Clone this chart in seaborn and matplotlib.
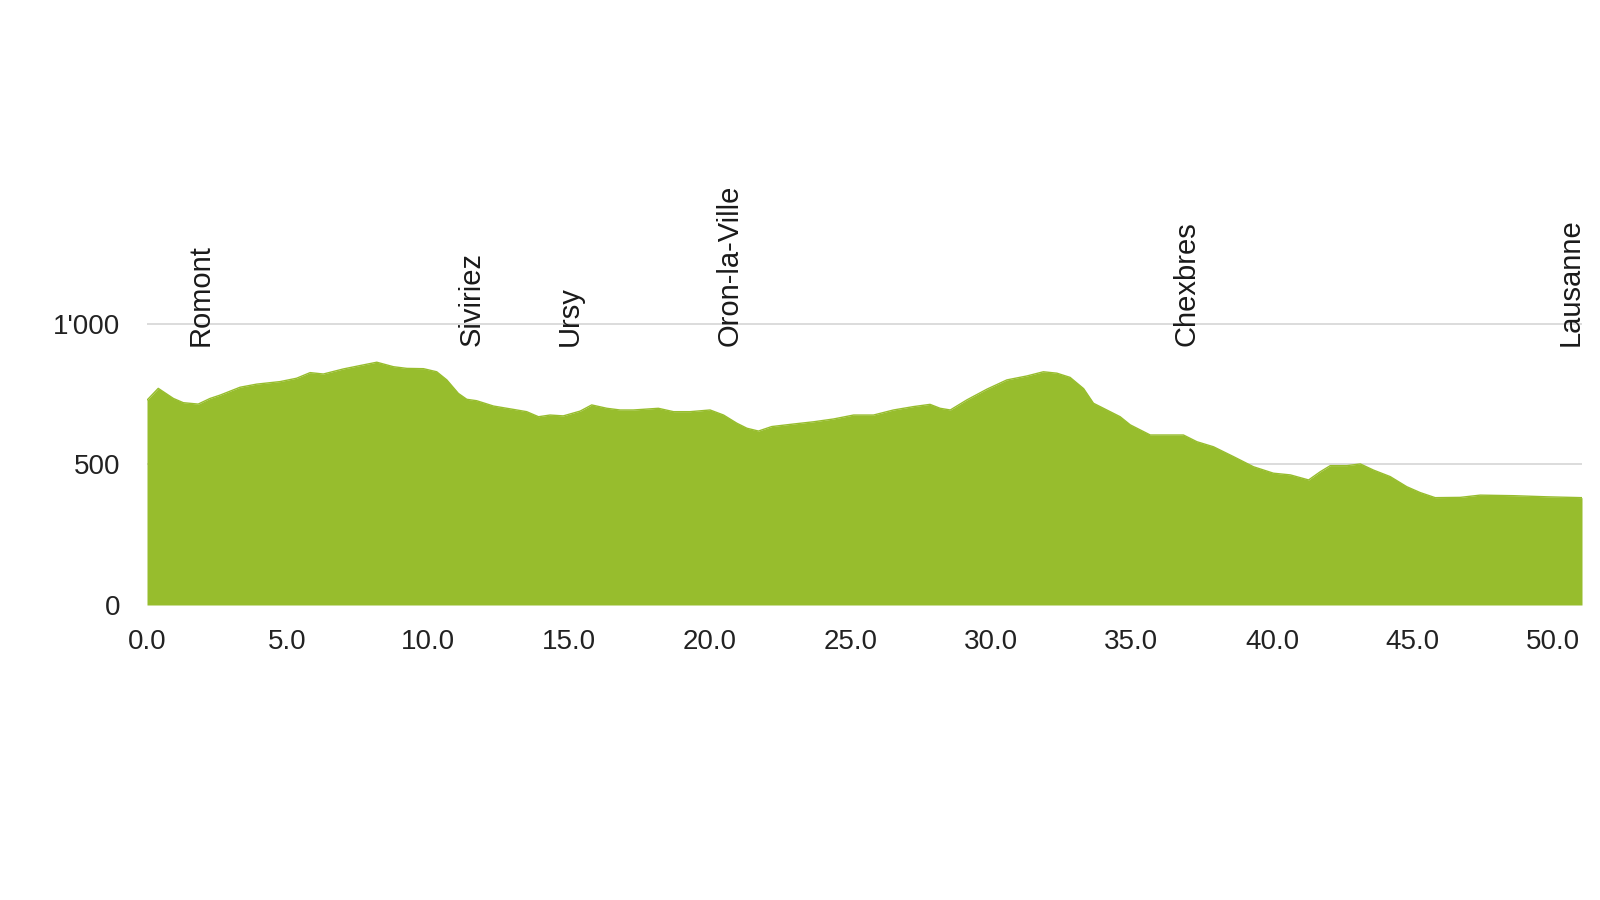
import matplotlib
matplotlib.use("Agg")
import matplotlib.pyplot as plt
import seaborn as sns
import pandas as pd

# elevation profile (km, m)
distance_km = [0.0, 0.4, 0.94, 1.29, 1.82, 2.24, 2.6, 3.31, 3.9, 4.73, 5.32, 5.8, 6.27,
               6.98, 7.57, 8.17, 8.76, 9.24, 9.83, 10.3, 10.66, 11.07, 11.37, 11.72,
               12.32, 13.03, 13.5, 13.92, 14.33, 14.8, 15.4, 15.81, 16.35, 16.82, 17.29,
               18.18, 18.72, 19.31, 20.02, 20.5, 20.97, 21.33, 21.74, 22.21, 22.98, 23.7,
               24.41, 25.12, 25.83, 26.54, 27.25, 27.84, 28.2, 28.56, 29.15, 29.86, 30.57,
               31.28, 31.87, 32.35, 32.82, 33.3, 33.65, 34.6, 34.96, 35.67, 36.38, 36.85,
               37.33, 37.92, 38.63, 39.34, 40.05, 40.65, 41.3, 41.71, 42.07, 42.66, 43.14,
               43.61, 44.2, 44.79, 45.27, 45.8, 46.69, 47.4, 48.59, 49.78, 51.02]
elevation_m = [729, 771, 735, 720, 715, 735, 747, 775, 786, 795, 807, 827, 822,
               840, 852, 864, 848, 842, 841, 830, 801, 753, 732, 727,
               708, 696, 688, 670, 676, 673, 690, 712, 700, 694, 694,
               700, 688, 688, 694, 676, 647, 629, 619, 635, 644, 652,
               662, 676, 676, 694, 706, 714, 700, 694, 730, 768, 801,
               815, 830, 825, 810, 770, 718, 670, 641, 605, 605, 605,
               581, 563, 528, 492, 469, 463, 445, 474, 496, 496, 502,
               480, 457, 421, 400, 382, 383, 391, 389, 385, 382]

places = ["Romont", "Siviriez", "Ursy", "Oron-la-Ville", "Chexbres", "Lausanne"]
place_km = [1.92, 11.55, 15.04, 20.73, 36.95, 50.6]

y_ticks = [0, 500, 1000]
y_tick_labels = ["0", "500", "1'000"]
x_ticks = [0, 5, 10, 15, 20, 25, 30, 35, 40, 45, 50]

df = pd.DataFrame({"km": distance_km, "elev": elevation_m})
green = "#97bd2d"

sns.set_theme(style="white")
plt.rcParams["font.family"] = ["Liberation Sans", "DejaVu Sans"]

fig = plt.figure(figsize=(16, 9), dpi=100)
ax = fig.add_axes([147 / 1600, 1 - 605 / 900, (1582 - 147) / 1600, 1050 * 0.281 / 900])

ax.fill_between(df["km"], 0, df["elev"], color=green, linewidth=0, zorder=2)
sns.lineplot(data=df, x="km", y="elev", color=green, linewidth=1, ax=ax, zorder=3)

ax.set_xlim(0, distance_km[-1])
ax.set_ylim(0, 1050)
ax.set_yticks(y_ticks)
ax.set_yticklabels(y_tick_labels)
ax.set_xticks(x_ticks)
ax.set_xticklabels([f"{v:.1f}" for v in x_ticks])
ax.tick_params(axis="y", length=0, pad=19, labelsize=20, labelcolor="#222222")
ax.tick_params(axis="x", length=0, pad=17, labelsize=20, labelcolor="#222222")
ax.set_xlabel("")
ax.set_ylabel("")
for s in ax.spines.values():
    s.set_visible(False)
for v in y_ticks[1:]:
    ax.axhline(v, color="#d6d6d6", linewidth=1.2, zorder=1)

for name, km in zip(places, place_km):
    ax.text(km, 920, name, rotation=90, ha="center", va="bottom",
            fontsize=21, color="#1a1a1a", clip_on=False, zorder=4)

fig.savefig("out.png", dpi=100, facecolor="white")
